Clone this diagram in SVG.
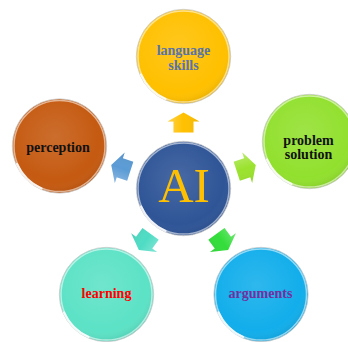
<svg xmlns="http://www.w3.org/2000/svg" width="348" height="342" viewBox="0 0 348 342">
<style>
.lbl{font-family:"Liberation Serif","Times New Roman",serif;font-weight:bold;font-size:14px;text-anchor:middle}
.ai{font-family:"Liberation Serif","Times New Roman",serif;font-size:49px;text-anchor:middle;fill:#FFC000}
.rim{fill:none;stroke:#ffffff;stroke-opacity:0.55;stroke-width:1.5}
.edge{fill:none;stroke:#c8c8c8;stroke-width:0.8}
.hl{fill:none;stroke:#ffffff;stroke-opacity:0.85;stroke-width:2.2;stroke-linecap:round}
</style>
<defs>
<radialGradient id="shine" cx="0.45" cy="0.4" r="0.6">
<stop offset="0" stop-color="#ffffff" stop-opacity="0.12"/>
<stop offset="0.8" stop-color="#ffffff" stop-opacity="0"/>
<stop offset="1" stop-color="#000000" stop-opacity="0.08"/>
</radialGradient>
<g id="gloss">
<circle r="47" fill="url(#shine)"/>
<circle r="45.5" class="rim"/>
<circle r="47.2" class="edge"/>
<path class="hl" d="M -42.5 18 A 46 46 0 0 0 -18 42.5"/>
</g>
<linearGradient id="arrShade" x1="0" y1="0" x2="1" y2="0">
<stop offset="0" stop-color="#ffffff" stop-opacity="0.3"/>
<stop offset="0.5" stop-color="#ffffff" stop-opacity="0"/>
<stop offset="1" stop-color="#000000" stop-opacity="0.08"/>
</linearGradient>
<path id="arr" d="M 0 -10 L 16 -1 L 10 -1 L 10 10 L -10 10 L -10 -1 L -16 -1 Z"/>
</defs>

<g id="connectors">
<g transform="rotate(0 183.5 188.5) translate(183.5 122.5)"><use href="#arr" fill="#FFC000"/><use href="#arr" fill="url(#arrShade)"/></g>
<g transform="rotate(-72 183.5 188.5) translate(183.5 122.5)"><use href="#arr" fill="#5B9BD5"/><use href="#arr" fill="url(#arrShade)"/></g>
<g transform="rotate(72 183.5 188.5) translate(183.5 122.5)"><use href="#arr" fill="#9BE22E"/><use href="#arr" fill="url(#arrShade)"/></g>
<g transform="rotate(-144 183.5 188.5) translate(183.5 122.5)"><use href="#arr" fill="#4FDCC4"/><use href="#arr" fill="url(#arrShade)"/></g>
<g transform="rotate(144 183.5 188.5) translate(183.5 122.5)"><use href="#arr" fill="#33DD3A"/><use href="#arr" fill="url(#arrShade)"/></g>
</g>

<g id="ai">
<circle cx="183.5" cy="188.5" r="47" fill="#2F5597"/>
<use href="#gloss" transform="translate(183.5 188.5)"/>
<text class="ai" x="184" y="202">AI</text>
</g>

<g id="language-skills">
<circle cx="183.5" cy="56.5" r="47" fill="#FFC000"/>
<use href="#gloss" transform="translate(183.5 56.5)"/>
<text class="lbl" x="183.5" y="55" fill="#5873A8">language</text>
<text class="lbl" x="183.5" y="70" fill="#5873A8">skills</text>
</g>

<g id="perception">
<circle cx="59.5" cy="146" r="47" fill="#C55A11"/>
<use href="#gloss" transform="translate(59.5 146)"/>
<text class="lbl" x="58" y="152" fill="#111111">perception</text>
</g>

<g id="problem-solution">
<circle cx="309.5" cy="141.5" r="47" fill="#92E02E"/>
<use href="#gloss" transform="translate(309.5 141.5)"/>
<text class="lbl" x="308.5" y="145" fill="#111111">problem</text>
<text class="lbl" x="308.5" y="159" fill="#111111">solution</text>
</g>

<g id="learning">
<circle cx="106.5" cy="294.5" r="47" fill="#5CE2C6"/>
<use href="#gloss" transform="translate(106.5 294.5)"/>
<text class="lbl" x="106.5" y="298" fill="#FF0000">learning</text>
</g>

<g id="arguments">
<circle cx="261" cy="294.5" r="47" fill="#12AEEB"/>
<use href="#gloss" transform="translate(261 294.5)"/>
<text class="lbl" x="260.5" y="298" fill="#7030A0">arguments</text>
</g>
</svg>
